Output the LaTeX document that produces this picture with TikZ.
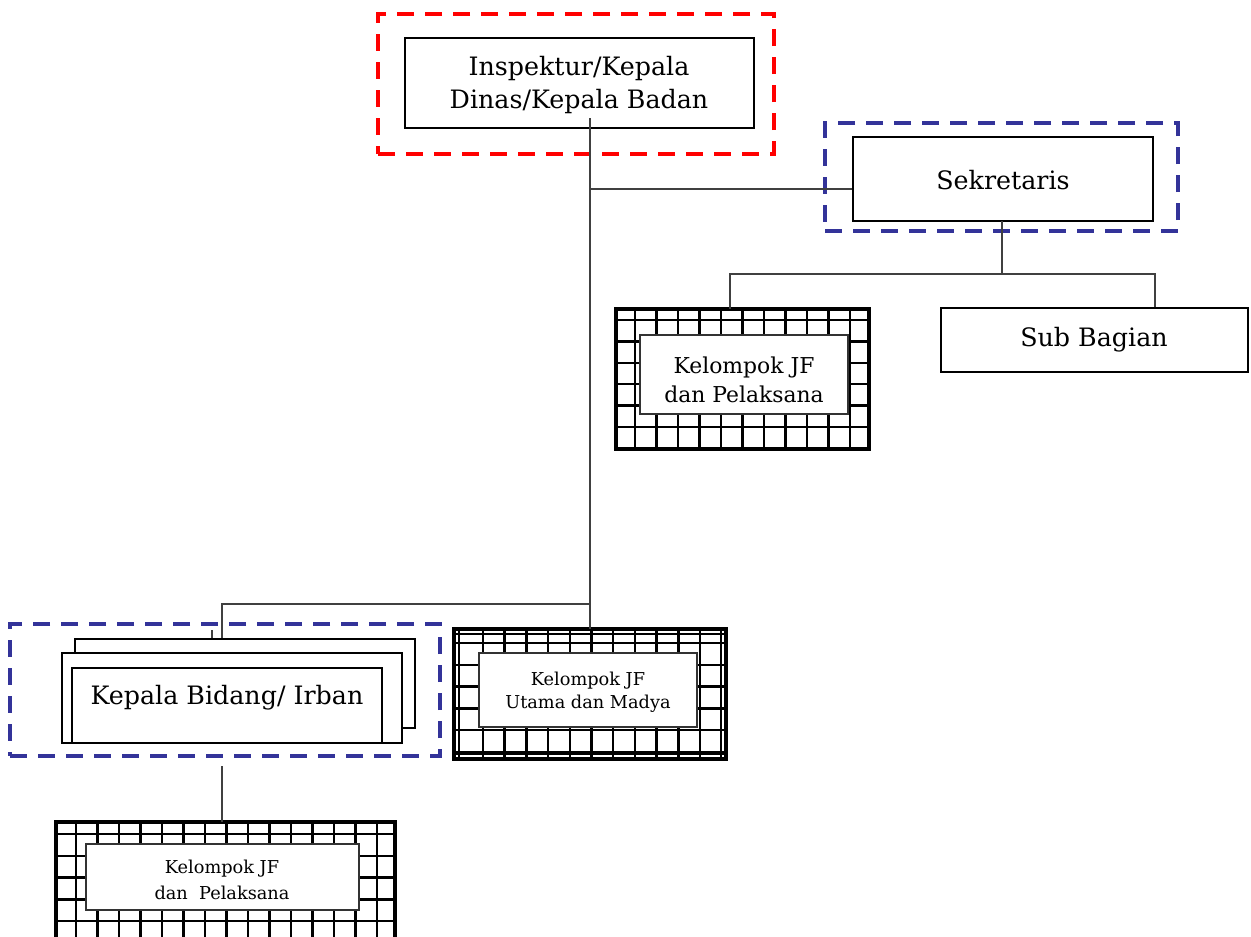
\documentclass[tikz,border=0pt]{standalone}
\usepackage{fontspec}
\setmainfont{DejaVu Serif}
\usetikzlibrary{fit}
\definecolor{dblue}{RGB}{51,51,153}
\tikzset{
  box/.style={draw=black, line width=1.6pt, fill=white, inner sep=0pt},
  thinbox/.style={draw=black, line width=1.2pt, fill=white, inner sep=0pt},
  reddash/.style={draw=red, line width=3pt, dash pattern=on 12.5pt off 8.5pt, inner sep=0pt},
  bluedash/.style={draw=dblue, line width=2.5pt, dash pattern=on 12.5pt off 8.5pt, inner sep=0pt},
  conn/.style={draw=black!75, line width=0.8pt},
  gridbox/.style={draw=black, line width=2pt, fill=white, inner sep=0pt},
  gridline/.style={black, line width=1.9pt},
  innerbox/.style={draw=black!80, line width=0.8pt, fill=white, inner sep=0pt},
  label/.style={inner sep=0pt, align=center},
  bigtext/.style={font=\fontsize{19}{25}\selectfont}
}
\begin{document}
\begin{tikzpicture}[x=0.75pt,y=-0.75pt]
\useasboundingbox (0,0) rectangle (1251,936);
\clip (0,0) rectangle (1251,936);
\fill[white] (0,0) rectangle (1251,936);

% ---- top ----
\node[reddash, fit={(378,14)(774,154)}] (redframe) {};
\node[box, fit={(405,38)(754,128)}] (top) {};
\node[label, bigtext] (toptext) at (579,85) {Inspektur/Kepala\\Dinas/Kepala Badan};

% ---- sekretaris ----
\node[bluedash, fit={(825,123)(1178,231)}] (sekframe) {};
\node[box, fit={(853,137)(1153,221)}] (sek) {};
\node[label, bigtext] (sektext) at (1003,180) {Sekretaris};
\node[box, fit={(941,308)(1248,372)}] (sub) {};
\node[label, bigtext] (subtext) at (1094,340) {Sub Bagian};

% ---- grid box 1 ----
\node[gridbox, fit={(617,310)(868,448)}] (jf1) {};
\foreach \i in {0,...,10} \draw[gridline] (635+\i*21.5,310) -- (635+\i*21.5,448);
\foreach \j in {0,...,5} \draw[gridline] (617,320+\j*21.4) -- (868,320+\j*21.4);
\draw[line width=2pt] (jf1.north west) rectangle (jf1.south east);
\node[innerbox, fit={(640,335)(848,414)}] (jf1in) {};
\node[label, font=\fontsize{16.4}{22}\selectfont] (jf1text) at (744,380) {Kelompok JF\\dan Pelaksana};

% ---- grid box 2 (Utama) ----
\node[gridbox, fit={(455,630)(725,758)}] (jfu) {};
\foreach \i in {0,...,10} \draw[gridline] (483+\i*21.7,630) -- (483+\i*21.7,758);
\foreach \j in {0,...,5} \draw[gridline] (455,643+\j*21.8) -- (725,643+\j*21.8);
\draw[gridline] (459,630) -- (459,758);
\draw[gridline] (721,630) -- (721,758);
\draw[gridline] (455,634) -- (725,634);
\draw[gridline] (455,754) -- (725,754);
\draw[line width=2pt] (jfu.north west) rectangle (jfu.south east);
\node[innerbox, fit={(479,653)(697,727)}] (jfuin) {};
\node[label, font=\fontsize{13.3}{17}\selectfont] (jfutext) at (588,692) {Kelompok JF\\Utama dan Madya};

% ---- kepala bidang stack ----
\node[bluedash, fit={(10,624)(440,756)}] (kbframe) {};
\node[thinbox, fit={(75,639)(415,728)}] (kbback) {};
\node[thinbox, fit={(62,653)(402,743)}] (kbmid) {};
\node[box, line width=2pt, fit={(72,668)(382,743)}] (kbfront) {};
\node[label, bigtext] (kbtext) at (227,698) {Kepala Bidang/ Irban};

% ---- grid box 3 ----
\node[gridbox, fit={(57,823)(394,950)}] (jf3) {};
\foreach \i in {0,...,14} \draw[gridline] (76+\i*21.5,823) -- (76+\i*21.5,950);
\foreach \j in {0,...,5} \draw[gridline] (57,834+\j*21.8) -- (394,834+\j*21.8);
\draw[line width=2pt] (jf3.north west) rectangle (jf3.south east);
\node[innerbox, fit={(86,844)(359,910)}] (jf3in) {};
\node[label, font=\fontsize{13.3}{19}\selectfont] (jf3text) at (222,880) {Kelompok JF\\dan\ \ Pelaksana};

% ---- connectors ----
\coordinate (t0) at (590,118);
\coordinate (j1) at (590,189);
\coordinate (j2) at (590,604);
\coordinate (j3) at (222,604);
\coordinate (st) at (212,630);
\coordinate (h1) at (730,274);
\coordinate (h2) at (1155,274);
\coordinate (s0) at (1002,221);
\coordinate (k0) at (222,766);

\draw[conn] (t0) -- (j1) -- (j1 -| sek.west);
\draw[conn] (j1) -- (j1 |- jfu.north);
\draw[conn] (j2) -- (j3) -- (j3 |- kbback.north);
\draw[conn] (st) -- (st |- kbback.north);
\draw[conn] (s0) -- (s0 |- h1);
\draw[conn] (h1 |- jf1.north) -- (h1) -- (h2) -- (h2 |- sub.north);
\draw[conn] (k0) -- (k0 |- jf3.north);
\end{tikzpicture}
\end{document}
